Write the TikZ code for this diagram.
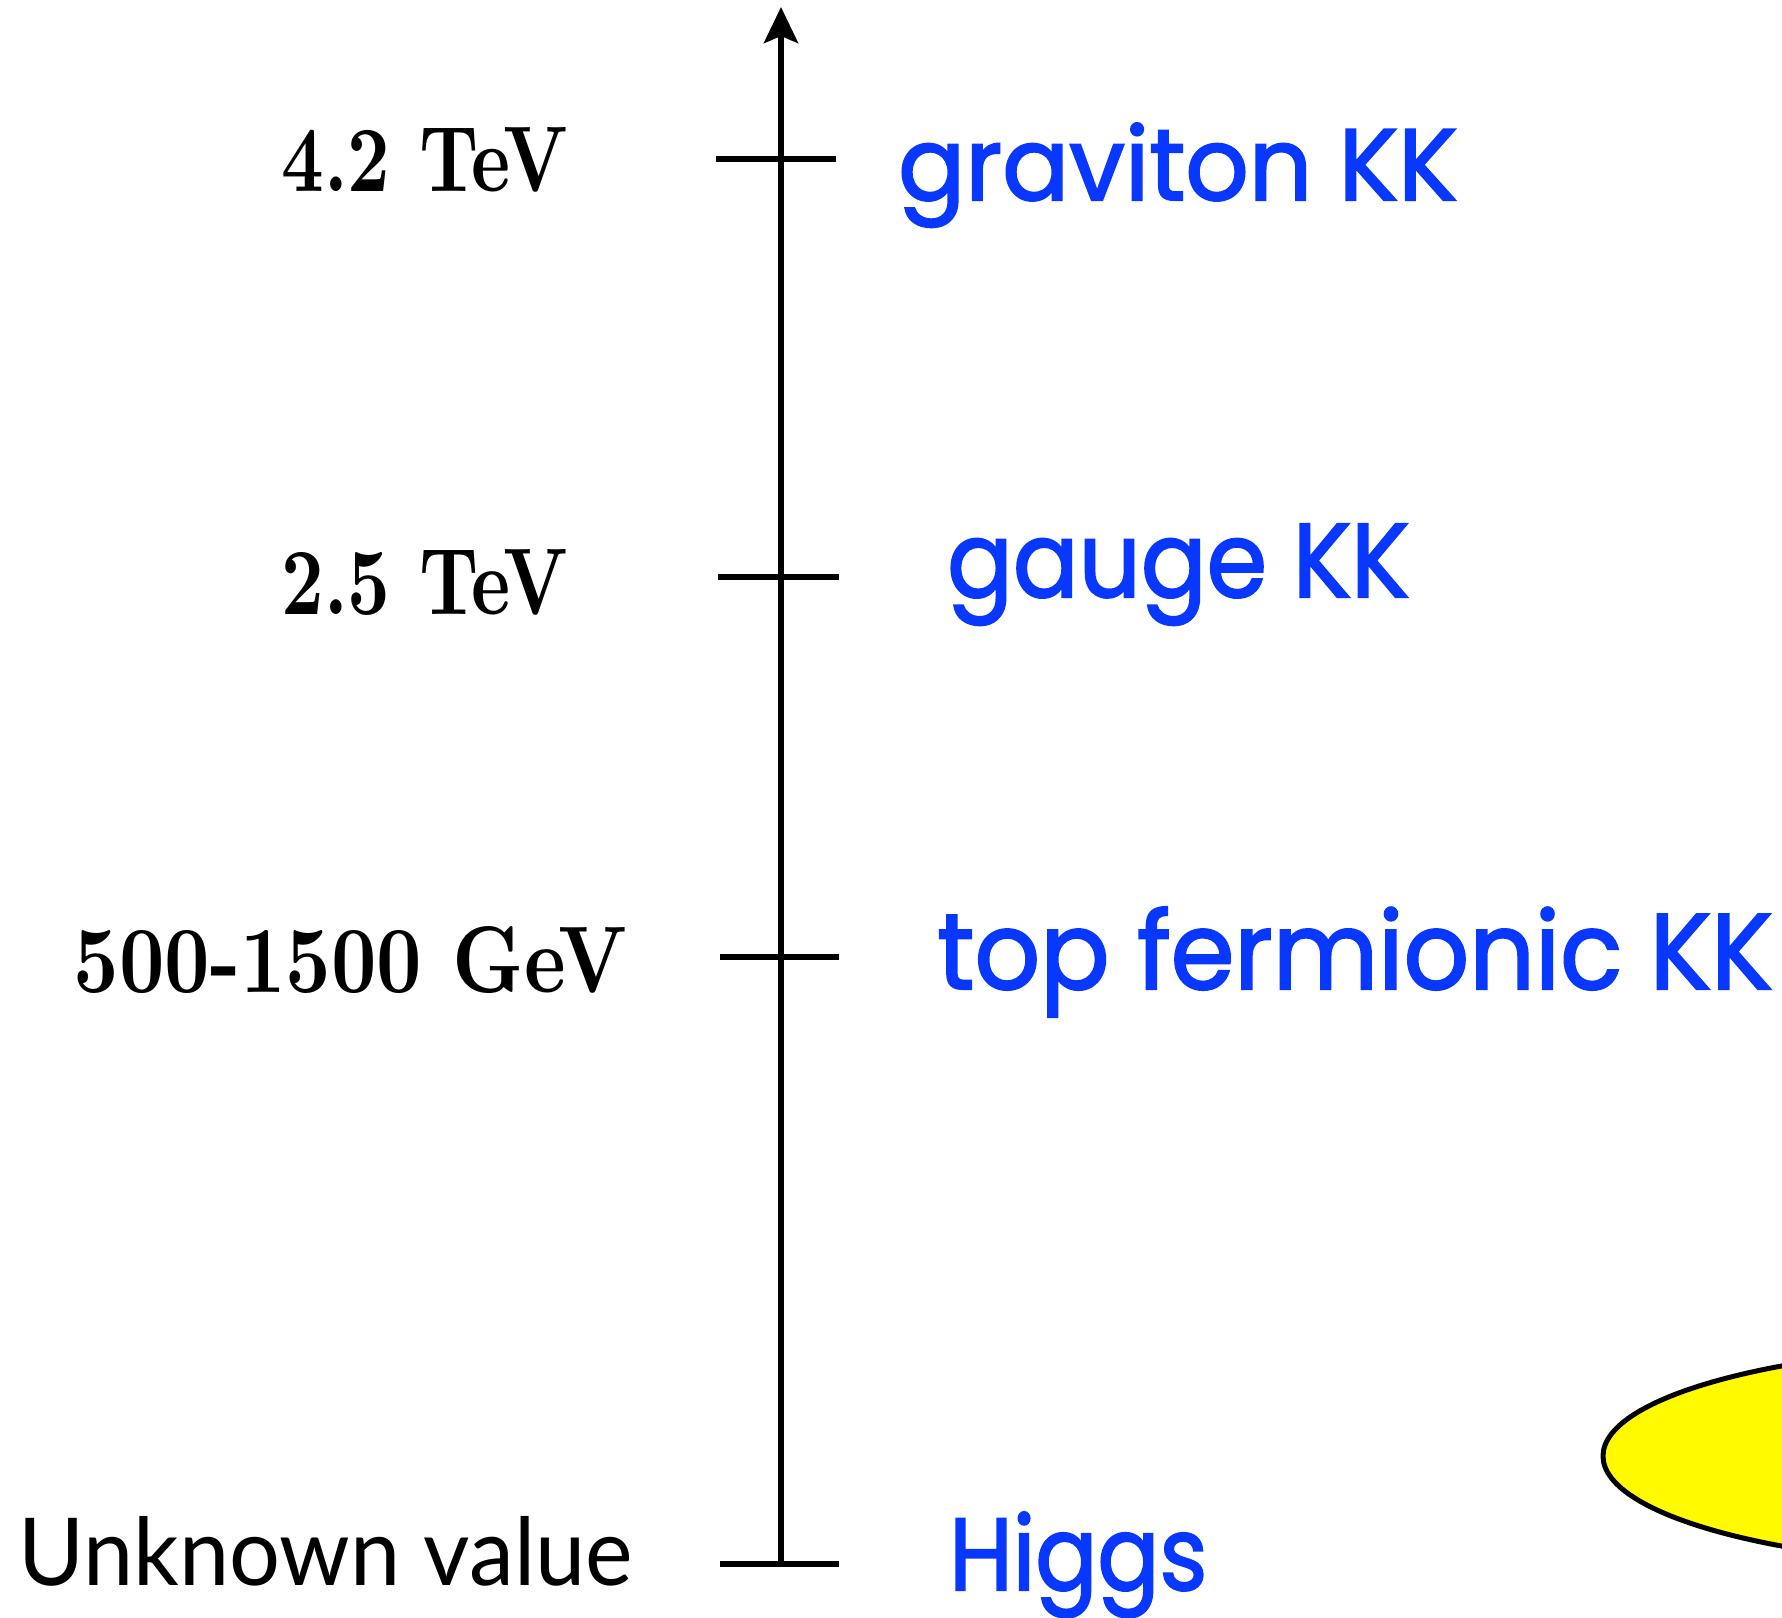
\documentclass[tikz,border=0pt]{standalone}
\usepackage{fontspec}
\usepackage{graphicx}
\usetikzlibrary{arrows.meta}
\newfontfamily\bluefont[FakeBold=2]{Poppins}
\newfontfamily\gillfont{Lato}
\definecolor{kkblue}{RGB}{8,56,255}
\definecolor{ellyellow}{RGB}{255,250,0}
\begin{document}
\begin{tikzpicture}[x=1pt,y=-1pt,
  energylabel/.style={anchor=base east,inner sep=0pt,font=\bfseries},
  particlelabel/.style={anchor=base west,inner sep=0pt,text=kkblue,font=\bluefont},
  tickline/.style={line width=6.5pt},
  axisline/.style={line width=6pt,-{Stealth[length=36pt,width=34pt,inset=7pt]}}]
\useasboundingbox (0,0) rectangle (1782,1617);
\begin{scope}
\clip (0,0) rectangle (1782,1617);
\draw[line width=5pt,fill=ellyellow] (2023,1456) ellipse [x radius=420, y radius=110];
\end{scope}
% axis
\coordinate (bot) at (781,1564);
\coordinate (top) at (781,7);
\draw[axisline] (bot) -- (top);
% ticks
\coordinate (t1a) at (716,159); \coordinate (t1b) at (836,159);
\coordinate (t2a) at (718,577); \coordinate (t2b) at (839,577);
\coordinate (t3a) at (720,957); \coordinate (t3b) at (839,957);
\coordinate (t4a) at (720,1564); \coordinate (t4b) at (839,1564);
\draw[tickline] (t1a) -- (t1b);
\draw[tickline] (t2a) -- (t2b);
\draw[tickline] (t3a) -- (t3b);
\draw[tickline] (t4a) -- (t4b);
% energy labels
\node[energylabel] (e1) at (568,191) {\resizebox{286pt}{64pt}{4.2 TeV}};
\node[energylabel] (e2) at (568,614) {\resizebox{286pt}{65pt}{2.5 TeV}};
\node[energylabel] (e3) at (627,992) {\resizebox{553pt}{66pt}{500-1500 GeV}};
\node[anchor=base east,inner sep=0pt,font=\gillfont] (e4) at (633,1585) {\resizebox{614pt}{69pt}{Unknown value}};
% particle labels
\node[particlelabel] (p1) at (898,200) {\resizebox{559pt}{77pt}{graviton KK}};
\node[particlelabel] (p2) at (947,597) {\resizebox{462pt}{73pt}{gauge KK}};
\node[particlelabel] (p3) at (937,989) {\resizebox{835pt}{82pt}{top fermionic KK}};
\node[particlelabel] (p4) at (949,1590) {\resizebox{258pt}{78pt}{Higgs}};
\end{tikzpicture}
\end{document}
